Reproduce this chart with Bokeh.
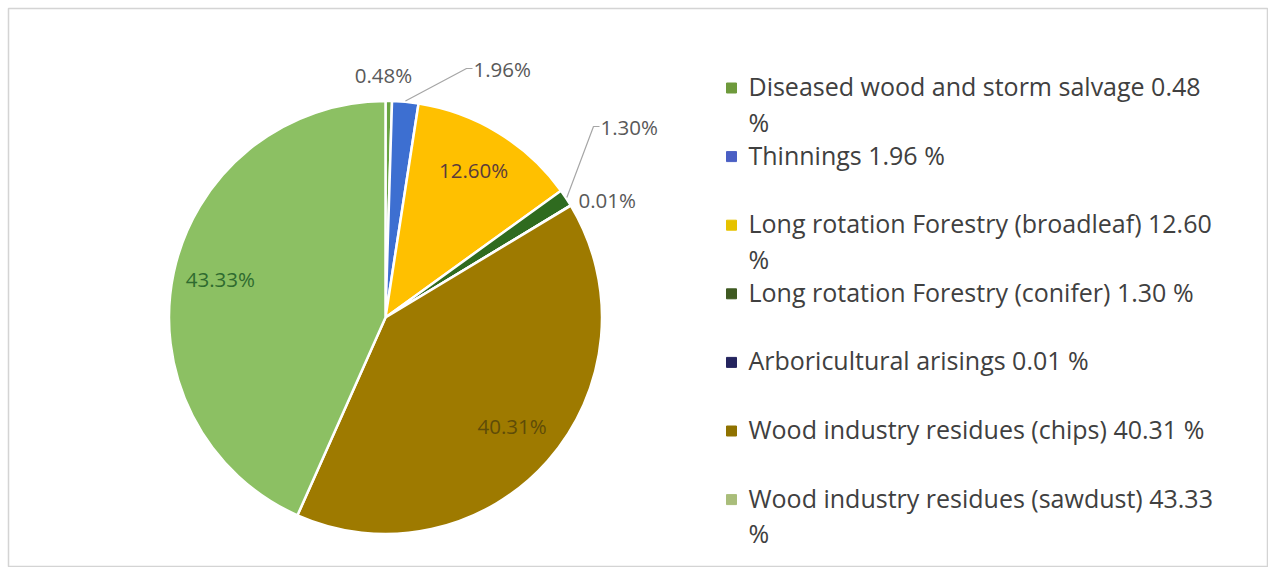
import math
from bokeh.plotting import figure
from bokeh.models import Range1d
from bokeh.core.properties import value
from bokeh.embed import file_html
from bokeh.resources import INLINE

# ---------------- data ----------------
categories = [
    "Diseased wood and storm salvage",
    "Thinnings",
    "Long rotation Forestry (broadleaf)",
    "Long rotation Forestry (conifer)",
    "Arboricultural arisings",
    "Wood industry residues (chips)",
    "Wood industry residues (sawdust)",
]
values = [0.48, 1.96, 12.60, 1.30, 0.01, 40.31, 43.33]

# ---------------- styles / layout ----------------
pie_colors = ["#6aa542", "#3d6fd1", "#ffc000", "#2f6b1f", "#1f1f5c", "#9e7a00", "#8cc063"]
legend_colors = ["#6e9a3c", "#4a5fc4", "#e6c200", "#3f5a22", "#24245e", "#8f7200", "#a9bd7a"]
label_colors = ["#595959", "#595959", "#5b3b3b", "#595959", "#595959", "#5e4c08", "#2f6b2f"]
# label placement: "in" -> inside at fraction of radius; otherwise (dx, dy, align) screen offsets from centre
label_layout = [
    (-2, -243, "center"),
    (88, -249, "left"),
    "in",
    (215, -191, "left"),
    (193, -118, "left"),
    "in",
    "in",
]
leader = [False, True, False, True, False, False, False]
legend_wrap = [True, False, True, False, False, False, True]

FONT = "Open Sans"
M = 8
W, H = 1260 + M, 559 + M


def Y(sy):
    return 575 - sy


p = figure(width=W, height=H, x_range=Range1d(8, 1268), y_range=Range1d(8, 567),
           output_backend="svg", toolbar_location=None,
           min_border_left=M, min_border_top=M, min_border_right=0, min_border_bottom=0)
p.axis.visible = False
p.grid.visible = False
p.outline_line_color = "#d4d4d4"
p.outline_line_width = 1.5
p.background_fill_color = "white"
p.border_fill_color = "white"

cx, cy_s, R = 385.0, 317.0, 216.5
cy = Y(cy_s)
total = sum(values)

starts, ends, mids = [], [], []
cum = 0.0
for v in values:
    a0 = math.pi / 2 - 2 * math.pi * cum / total
    cum += v
    a1 = math.pi / 2 - 2 * math.pi * cum / total
    starts.append(a0)
    ends.append(a1)
    mids.append((a0 + a1) / 2)

p.wedge(x=cx, y=cy, radius=R, start_angle=starts, end_angle=ends, direction="clock",
        fill_color=pie_colors, line_color="white", line_width=2.5)

# data labels
for i, v in enumerate(values):
    txt = f"{v:.2f}%"
    lay = label_layout[i]
    if lay == "in":
        r = 0.78 * R
        tx = cx + r * math.cos(mids[i])
        ty = cy + r * math.sin(mids[i]) + 3
        align = "center"
    else:
        dx, dy, align = lay
        tx = cx + dx
        ty = cy - dy
    if leader[i]:
        ex = cx + (R + 1) * math.cos(mids[i])
        ey = cy + (R + 1) * math.sin(mids[i])
        p.line(x=[ex, tx - 7, tx - 1], y=[ey, ty, ty], line_color="#a6a6a6", line_width=1.2)
    p.text(x=[tx], y=[ty], text=[txt], text_font=value(FONT), text_font_size="20.5px",
           text_color=label_colors[i], text_align=align, text_baseline="middle")

# legend
lx_marker, lx_text = 731, 748
ly0, lstep, lwrap = 85.5, 68.6, 35.5
for i, (cat, v) in enumerate(zip(categories, values)):
    sy = ly0 + lstep * i
    if legend_wrap[i]:
        lines = [f"{cat} {v:.2f}", "%"]
    else:
        lines = [f"{cat} {v:.2f} %"]
    p.scatter(x=[lx_marker], y=[Y(sy + 2)], marker="square", size=10,
              fill_color=legend_colors[i], line_color=legend_colors[i])
    for j, ln in enumerate(lines):
        p.text(x=[lx_text], y=[Y(sy + j * lwrap)], text=[ln], text_font=value(FONT),
               text_font_size="25px", text_color="#404040", text_align="left",
               text_baseline="middle")

open("out.html", "w").write(file_html(p, INLINE))
